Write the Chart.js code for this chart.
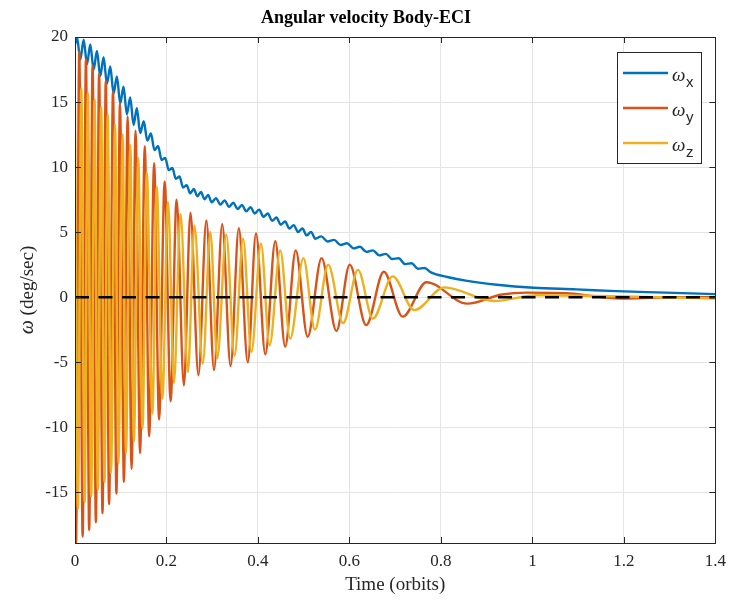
<!DOCTYPE html>
<html>
<head>
<meta charset="utf-8">
<script src="https://cdn.jsdelivr.net/npm/chart.js@4.4.1/dist/chart.umd.min.js"></script>
<style>
  html, body { margin: 0; padding: 0; background: #fff; }
  #wrap { width: 734px; height: 605px; position: relative; }
</style>
</head>
<body>
<div id="wrap"><canvas id="chart"></canvas></div>
<script>
// axis ticks
const xTicks = [0, 0.2, 0.4, 0.6, 0.8, 1, 1.2, 1.4];
const yTicks = [-15, -10, -5, 0, 5, 10, 15, 20];

// omega_x (deg/sec) vs time (orbits) (peaks / troughs of the wiggle)
const wxTime = [0, 0.0043, 0.0116, 0.0189, 0.0262, 0.0334, 0.0407, 0.0480, 0.0552, 0.0625,
  0.0698, 0.0771, 0.0843, 0.0916, 0.0989, 0.1061, 0.1134, 0.1207, 0.1280, 0.1352, 0.1425,
  0.1503, 0.1581, 0.1659, 0.1738, 0.1816, 0.1894, 0.1972, 0.2050, 0.2128, 0.2206, 0.2285,
  0.2363, 0.2441, 0.2519, 0.2597, 0.2675, 0.2753, 0.2832, 0.2910, 0.2988,
  0.3082, 0.3177, 0.3271, 0.3366, 0.3460, 0.3554, 0.3649, 0.3743, 0.3838, 0.3932, 0.4026,
  0.4121, 0.4215, 0.4310, 0.4404, 0.4499, 0.4593, 0.4687, 0.4782, 0.4876, 0.4971, 0.5065,
  0.5160, 0.5254, 0.5383, 0.5524, 0.5665, 0.5806, 0.5947, 0.6089, 0.6230, 0.6371, 0.6512,
  0.6653, 0.6794, 0.6935, 0.7076, 0.7217, 0.7358, 0.7499, 0.7641, 0.7782,
  0.8140, 0.8574, 0.9225, 1.0028, 1.0962, 1.1830, 1.2915, 1.4];
const wxVal = [19.4, 20.0, 18.26, 19.79, 17.91, 19.42, 17.48, 18.93, 16.99, 18.44,
  16.41, 17.73, 15.65, 16.97, 14.88, 16.17, 14.06, 15.35, 13.24, 14.53, 12.61,
  13.52, 12.03, 12.58, 11.30, 11.62, 10.54, 10.71, 9.77, 9.93, 9.10, 9.27,
  8.43, 8.60, 7.98, 8.31, 7.76, 8.08, 7.53, 7.86, 7.30,
  7.61, 7.12, 7.44, 6.95, 7.26, 6.78, 7.09, 6.60, 6.91, 6.43, 6.73,
  6.18, 6.43, 5.87, 6.12, 5.57, 5.82, 5.27, 5.54, 5.01, 5.28, 4.75,
  5.02, 4.49, 4.67, 4.28, 4.40, 4.01, 4.14, 3.75, 3.87, 3.48, 3.60,
  3.21, 3.33, 2.93, 2.99, 2.54, 2.61, 2.18, 2.24, 1.91,
  1.55, 1.25, 0.95, 0.72, 0.6, 0.46, 0.35, 0.23];

// omega_y
const wyTime = [0, 0.0022, 0.0093, 0.0167, 0.0239, 0.0310, 0.0384, 0.0456, 0.0527, 0.0601,
  0.0673, 0.0745, 0.0831, 0.0905, 0.0983, 0.1070, 0.1150, 0.1237, 0.1324, 0.1422, 0.1526,
  0.1621, 0.1730, 0.1838, 0.1960, 0.2090, 0.2221, 0.2381, 0.2524, 0.2698, 0.2872, 0.3039,
  0.3219, 0.3401, 0.3581, 0.3777, 0.3957, 0.4161, 0.4378, 0.4595, 0.4825, 0.5086, 0.5390,
  0.5715, 0.6006, 0.6366, 0.6751, 0.7163, 0.7684, 0.8574, 0.9333, 0.9876, 1.0744, 1.1396,
  1.2047, 1.3132, 1.4];
const wyVal = [-8.0, -18.9, 18.9, -18.4, 18.3, -17.9, 17.8, -17.3, 17.2, -16.6,
  16.6, -15.9, 15.8, -15.1, 14.9, -14.2, 13.9, -13.2, 12.8, -12.0, 11.6,
  -10.7, 10.3, -9.4, 8.9, -8.0, 7.5, -6.8, 6.5, -6.0, 5.9, -5.6,
  5.6, -5.3, 5.3, -5.0, 4.9, -4.4, 4.3, -3.8, 3.6, -3.05, 3.0,
  -2.6, 2.5, -2.15, 1.95, -1.5, 1.15, -0.5, 0.2, 0.35, 0.3, 0.05,
  -0.1, 0.0, 0.0];

// omega_z
const wzTime = [0, 0.0065, 0.0137, 0.0211, 0.0282, 0.0354, 0.0428, 0.0499, 0.0571, 0.0645,
  0.0716, 0.0788, 0.0875, 0.0949, 0.1042, 0.1114, 0.1209, 0.1287, 0.1383, 0.1476,
  0.1569, 0.1693, 0.1786, 0.1910, 0.2034, 0.2164, 0.2307, 0.2468, 0.2611, 0.2794,
  0.2959, 0.3110, 0.3306, 0.3488, 0.3675, 0.3857, 0.4066, 0.4254, 0.4487, 0.4704,
  0.4993, 0.5246, 0.5535, 0.5861, 0.6186, 0.6512, 0.6946, 0.7417, 0.8075, 0.9160,
  1.0093, 1.1396, 1.2698, 1.4];
const wzVal = [15.0, -16.25, 16.05, -15.75, 15.7, -15.3, 15.2, -14.8, 14.6, -14.2,
  14.0, -13.5, 13.3, -12.8, 12.5, -12.0, 11.7, -11.1, 10.7, -10.1,
  9.6, -8.95, 8.5, -7.8, 7.3, -6.6, 6.4, -5.75, 5.5, -5.1,
  5.0, -4.7, 4.8, -4.5, 4.5, -4.2, 4.1, -3.7, 3.6, -3.2,
  3.0, -2.5, 2.5, -2.0, 2.1, -1.65, 1.6, -1.0, 0.75, -0.3,
  0.15, 0.1, 0.0, -0.1];

// zero reference line
const zeroTime = [0, 1.4];
const zeroVal = [0, 0];

const seriesNames = ['x', 'y', 'z'];
const seriesColors = ['#0072BD', '#D95319', '#EDB120'];

const toPoints = (t, v) => t.map((x, i) => ({ x: x, y: v[i] }));

const SERIF = '"Liberation Serif", "DejaVu Serif", serif';
const SANS = '"Liberation Sans", Arial, sans-serif';
const AXIS_COLOR = '#262626';

// box around the axes + inward tick marks (matlab style)
const framePlugin = {
  id: 'frame',
  afterDatasetsDraw(chart) {
    const { ctx, chartArea: a, scales } = chart;
    ctx.save();
    ctx.strokeStyle = AXIS_COLOR;
    ctx.lineWidth = 1;
    ctx.beginPath();
    xTicks.forEach(v => {
      const px = Math.round(scales.x.getPixelForValue(v)) + 0.5;
      ctx.moveTo(px, a.bottom); ctx.lineTo(px, a.bottom - 6);
      ctx.moveTo(px, a.top); ctx.lineTo(px, a.top + 6);
    });
    yTicks.forEach(v => {
      const py = Math.round(scales.y.getPixelForValue(v)) + 0.5;
      ctx.moveTo(a.left, py); ctx.lineTo(a.left + 6, py);
      ctx.moveTo(a.right, py); ctx.lineTo(a.right - 6, py);
    });
    ctx.stroke();
    ctx.strokeRect(Math.round(a.left) + 0.5, Math.round(a.top) + 0.5,
      Math.round(a.right - a.left), Math.round(a.bottom - a.top));
    ctx.restore();
  }
};

// title, axis titles, legend
const textPlugin = {
  id: 'texts',
  afterDraw(chart) {
    const { ctx, chartArea: a } = chart;
    ctx.save();
    ctx.fillStyle = '#000';
    ctx.textBaseline = 'alphabetic';

    // title
    ctx.font = 'bold 18px ' + SERIF;
    ctx.textAlign = 'center';
    ctx.fillText('Angular velocity Body-ECI', 366, 23);

    // x title
    ctx.font = '19px ' + SERIF;
    ctx.fillStyle = AXIS_COLOR;
    ctx.fillText('Time (orbits)', (a.left + a.right) / 2, 590);

    // y title: italic omega + normal text
    ctx.save();
    ctx.translate(33, 290);
    ctx.rotate(-Math.PI / 2);
    ctx.textAlign = 'left';
    const part1 = 'ω';
    const part2 = ' (deg/sec)';
    ctx.font = 'italic 20px ' + SERIF;
    const w1 = ctx.measureText(part1).width;
    ctx.font = '19px ' + SERIF;
    const w2 = ctx.measureText(part2).width;
    const start = -(w1 + w2) / 2;
    ctx.font = 'italic 20px ' + SERIF;
    ctx.fillText(part1, start, 0);
    ctx.font = '19px ' + SERIF;
    ctx.fillText(part2, start + w1, 0);
    ctx.restore();

    // legend
    const bx = 617, by = 52, bw = 84, bh = 111;
    ctx.fillStyle = '#fff';
    ctx.fillRect(bx, by, bw, bh);
    ctx.strokeStyle = AXIS_COLOR;
    ctx.lineWidth = 1;
    ctx.strokeRect(bx + 0.5, by + 0.5, bw, bh);
    seriesNames.forEach((n, i) => {
      const ly = 73 + i * 35;
      ctx.strokeStyle = seriesColors[i];
      ctx.lineWidth = 2.4;
      ctx.beginPath();
      ctx.moveTo(623, ly);
      ctx.lineTo(668, ly);
      ctx.stroke();
      ctx.fillStyle = AXIS_COLOR;
      ctx.textAlign = 'left';
      ctx.font = 'italic 19px ' + SERIF;
      ctx.fillText('ω', 672, ly + 8);
      ctx.font = '15px ' + SANS;
      ctx.fillText(n, 686, ly + 14);
    });
    ctx.restore();
  }
};

new Chart(document.getElementById('chart'), {
  type: 'line',
  data: {
    datasets: [
      {
        label: 'ωx',
        data: toPoints(wxTime, wxVal),
        borderColor: seriesColors[0],
        borderWidth: 2.4,
        pointRadius: 0,
        cubicInterpolationMode: 'monotone',
        order: 4
      },
      {
        label: 'ωy',
        data: toPoints(wyTime, wyVal),
        borderColor: seriesColors[1],
        borderWidth: 2.4,
        pointRadius: 0,
        cubicInterpolationMode: 'monotone',
        order: 3
      },
      {
        label: 'ωz',
        data: toPoints(wzTime, wzVal),
        borderColor: seriesColors[2],
        borderWidth: 2.4,
        pointRadius: 0,
        cubicInterpolationMode: 'monotone',
        order: 2
      },
      {
        label: 'zero',
        data: toPoints(zeroTime, zeroVal),
        borderColor: '#000',
        borderWidth: 2.5,
        borderDash: [14, 9.5],
        pointRadius: 0,
        order: 1
      }
    ]
  },
  options: {
    responsive: true,
    maintainAspectRatio: false,
    animation: false,
    events: [],
    layout: { padding: { top: 37, right: 14, left: 0, bottom: 0 } },
    plugins: {
      legend: { display: false },
      tooltip: { enabled: false },
      title: { display: false }
    },
    scales: {
      x: {
        type: 'linear',
        min: 0,
        max: 1.4,
        afterBuildTicks: (s) => { s.ticks = xTicks.map(v => ({ value: v })); },
        afterFit: (s) => { s.height = 62; },
        ticks: {
          autoSkip: false,
          maxRotation: 0,
          padding: 8,
          color: AXIS_COLOR,
          font: { family: SERIF, size: 17 },
          callback: (v) => String(v)
        },
        grid: { color: '#e4e4e4', lineWidth: 1, drawTicks: false },
        border: { display: true, color: AXIS_COLOR, width: 1 }
      },
      y: {
        min: -18.9,
        max: 20,
        afterBuildTicks: (s) => { s.ticks = yTicks.map(v => ({ value: v })); },
        afterFit: (s) => { s.width = 75; },
        ticks: {
          autoSkip: false,
          padding: 7,
          color: AXIS_COLOR,
          font: { family: SERIF, size: 17 },
          callback: (v) => String(v)
        },
        grid: { color: '#e4e4e4', lineWidth: 1, drawTicks: false },
        border: { display: true, color: AXIS_COLOR, width: 1 }
      }
    }
  },
  plugins: [framePlugin, textPlugin]
});
</script>
</body>
</html>
